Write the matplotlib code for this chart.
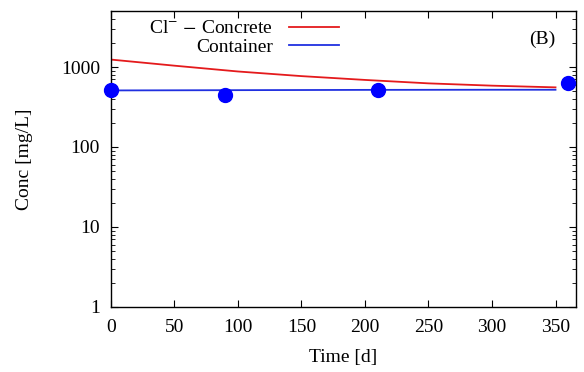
import matplotlib.pyplot as plt
import numpy as np

# Model curves
t_model = [0, 50, 100, 150, 200, 250, 300, 350]
concrete = [1240, 1040, 880, 770, 690, 625, 585, 557]
container = [510, 512, 514, 516, 518, 519, 520, 520]

# Measured data points
t_obs = [0, 90, 210, 360]
c_obs = [510, 447, 516, 625]

plt.rcParams['font.family'] = ['Liberation Serif', 'DejaVu Serif']
plt.rcParams['mathtext.fontset'] = 'stix'

fig = plt.figure(figsize=(5.84, 3.72), dpi=100)
ax = fig.add_axes([0.190, 0.175, 0.796, 0.795])

ax.plot(t_model, concrete, color='#e41a1c', lw=1.3, label=r'Cl$^{-}$ $-$ Concrete')
ax.plot(t_model, container, color='#2030e0', lw=1.3, label='Container')
ax.plot(t_obs, c_obs, 'o', color='blue', ms=10, clip_on=False, zorder=5)

ax.set_yscale('log')
ax.set_xlim(0, 366)
ax.set_ylim(1, 5000)
ax.set_xticks(np.arange(0, 351, 50))
ax.set_yticks([1, 10, 100, 1000])
ax.set_yticklabels(['1', '10', '100', '1000'])
ax.tick_params(which='both', direction='in', top=True, right=True, labelsize=14)
ax.tick_params(which='major', length=5)
ax.tick_params(which='minor', length=3)
ax.tick_params(axis='x', which='minor', bottom=False, top=False)
ax.tick_params(axis='x', pad=9)
ax.tick_params(axis='y', pad=8)
for s in ax.spines.values():
    s.set_linewidth(1.0)

ax.set_xlabel('Time [d]', fontsize=14, labelpad=9)
ax.set_ylabel('Conc [mg/L]', fontsize=14, labelpad=20)

ax.legend(loc='upper left', bbox_to_anchor=(0.045, 1.03), frameon=False, markerfirst=False,
          fontsize=14, handlelength=2.6, labelspacing=0.05, handletextpad=0.8)
ax.text(0.955, 0.905, '(B)', transform=ax.transAxes, ha='right', va='center', fontsize=14)

plt.savefig('out.png')
